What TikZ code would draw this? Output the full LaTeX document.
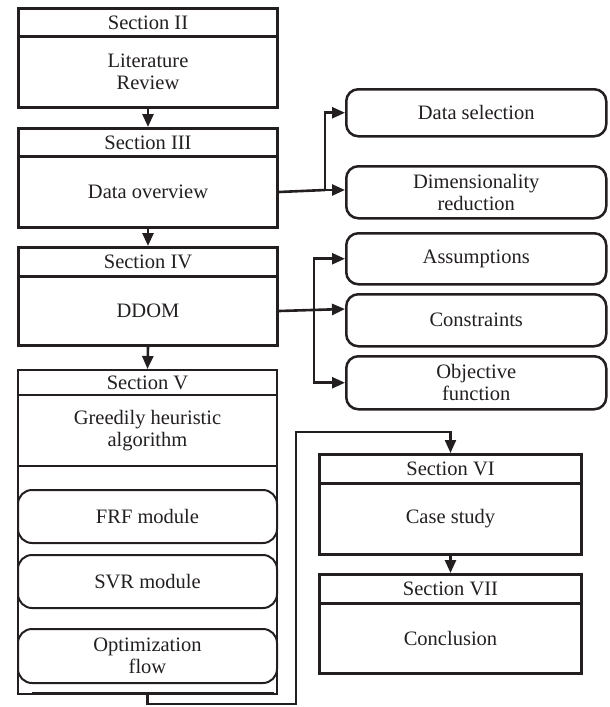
\documentclass[tikz,border=0pt]{standalone}
\usepackage{fontspec}
\setmainfont{Liberation Serif}
\usetikzlibrary{arrows.meta}
\definecolor{ink}{HTML}{231F20}
\begin{document}
\begin{tikzpicture}[x=1pt,y=-1pt,
  font=\fontsize{20.5}{22}\selectfont,
  every node/.style={text=ink},
  hdr/.style={draw=ink, line width=3pt, anchor=north west, minimum width=259pt, inner sep=0pt, align=center},
  bodybox/.style={draw=ink, line width=3pt, anchor=north west, minimum width=259pt, inner sep=0pt, align=center},
  thinbox/.style={draw=ink, line width=2pt, anchor=north west, minimum width=259pt, inner sep=0pt, align=center},
  rbox/.style={draw=ink, line width=2.5pt, rounded corners=12pt, anchor=north west, minimum width=260pt, inner sep=0pt, align=center},
  lbox/.style={draw=ink, line width=2pt, rounded corners=14pt, anchor=north west, minimum width=259pt, inner sep=0pt, align=center},
  conn/.style={draw=ink, line width=2.6pt},
  arr/.style={conn, -{Triangle[length=13pt,width=11pt]}}
]
\useasboundingbox (0,0) rectangle (610,707);

% Section II
\node[hdr, minimum height=28pt] (s2h) at (17,7) {Section II};
\node[bodybox, minimum height=71pt] (s2) at (17,35) {Literature\\Review};
% Section III
\node[hdr, minimum height=28pt] (s3h) at (17,127) {Section III};
\node[bodybox, minimum height=71pt] (s3) at (17,155) {Data overview};
% Section IV
\node[hdr, minimum height=29pt] (s4h) at (17,246) {Section IV};
\node[bodybox, minimum height=69pt] (s4) at (17,275) {DDOM};
% Section V
\node[thinbox, minimum height=324pt] (s5) at (17,369) {};
\node[thinbox, minimum height=25pt] (s5h) at (17,369) {Section V};
\node[thinbox, minimum height=71pt] (s5b) at (17,394) {Greedily heuristic\\algorithm};
\node[lbox, minimum height=53pt] (frf) at (17,489) {FRF module};
\node[lbox, minimum height=53pt] (svr) at (17,554) {SVR module};
\node[lbox, minimum height=54pt] (opt) at (17,628) {Optimization\\flow};
\draw[conn, line width=3pt] (32,693) -- (274,693);

% Section VI
\node[hdr, minimum width=262pt, minimum height=29pt] (s6h) at (318,453) {Section VI};
\node[bodybox, minimum width=262pt, minimum height=71pt] (s6) at (318,482) {Case study};
% Section VII
\node[hdr, minimum width=262pt, minimum height=29pt] (s7h) at (318,573) {Section VII};
\node[bodybox, minimum width=262pt, minimum height=70pt] (s7) at (318,602) {Conclusion};

% right boxes
\node[rbox, minimum height=47pt] (ds) at (345,88) {Data selection};
\node[rbox, minimum height=52pt] (dr) at (345,165) {Dimensionality\\reduction};
\node[rbox, minimum height=51pt] (as) at (345,232) {Assumptions};
\node[rbox, minimum height=52pt] (co) at (345,293) {Constraints};
\node[rbox, minimum height=53pt] (of) at (345,355) {Objective\\function};

% vertical flow
\draw[arr] (s2.south) -- (s3h.north);
\draw[arr] (s3.south) -- (s4h.north);
\draw[arr] (s4.south) -- (s5.north);
\draw[arr] (s6.south) -- (s7h.north);

% III branches
\coordinate (j1) at (325,190);
\draw[conn] (s3.east) -- (j1);
\draw[arr] (j1) |- (ds.west);
\draw[arr] (j1) -- (j1 -| dr.west);

% IV branches
\coordinate (j2) at (314,309);
\draw[arr] (s4.east) -- (j2 -| co.west);
\draw[arr] (j2) |- (as.west);
\draw[arr] (j2) |- (of.west);

% V -> VI
\coordinate (c1) at (296,704);
\coordinate (c2) at (296,432);
\draw[arr, line width=2.2pt] (s5.south) |- (c1) -- (c2) -| (s6h.north);
\end{tikzpicture}
\end{document}
